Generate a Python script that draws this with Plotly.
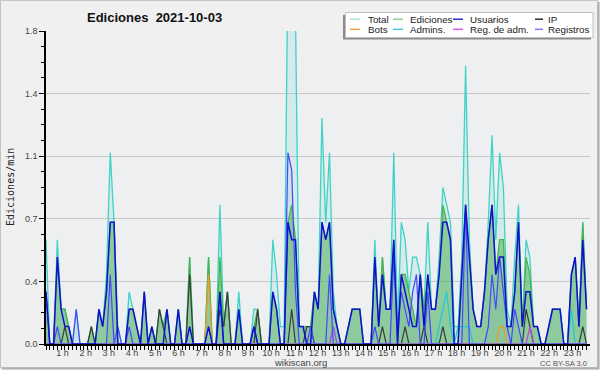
import plotly.graph_objects as go

# ---------------- data (edits per minute, 10-minute buckets, 144 per day) -------------
total = [0.6,0,0,0.6,0.2,0.2,0.1,0,0.2,0,0,0,
         0.1,0,0.2,0.1,0.4,1.1,0.7,0.1,0,0,0.3,0.2,
         0.1,0,0.3,0,0.1,0,0.2,0.1,0.2,0,0,0.2,
         0,0,0.5,0,0,0,0,0.5,0,0,0.8,0.1,
         0.3,0,0,0.3,0,0,0,0.2,0.2,0,0,0,
         0.6,0.4,0.1,0.1,2.2,2.5,1.9,0.1,0.1,0.1,0.1,0.3,
         0.2,1.3,0.7,1.1,0.3,0.1,0,0,0.1,0.2,0.2,0.2,
         0,0,0,0.6,0.1,0.5,0.2,0.2,1.1,0.1,0.7,0.6,
         0.3,0.5,0.5,0.4,0.2,0.7,0.2,0.2,0.5,0.9,0.8,0.7,
         0.1,0.1,0.5,1.6,0.6,0.2,0.1,0.1,0.3,0.7,1.2,0.6,
         1.1,0.9,0.2,0.1,0.5,0.8,0.1,0.6,0.5,0.1,0.1,0,
         0,0.1,0.2,0.2,0.2,0,0,0.4,0.5,0.1,0.7,0.2]
ediciones = [0.3,0,0,0.5,0.2,0.2,0.1,0,0,0,0,0,
             0.1,0,0.2,0.1,0.3,0.7,0.7,0,0,0,0.2,0.2,
             0.1,0,0.3,0,0.1,0,0.2,0.1,0.2,0,0,0.2,
             0,0,0.5,0,0,0,0,0.5,0,0,0.5,0.1,
             0.3,0,0,0.2,0,0,0,0.1,0.2,0,0,0,
             0.3,0.2,0,0,0.7,0.8,0.6,0.1,0.1,0.1,0.1,0.3,
             0.2,0.7,0.6,0.7,0.2,0.1,0,0,0.1,0.2,0.2,0.2,
             0,0,0,0.5,0.1,0.5,0.2,0.2,0.6,0,0.4,0.4,
             0.3,0.2,0.1,0.4,0.2,0.4,0.2,0.2,0.4,0.8,0.7,0.6,
             0,0,0.4,0.8,0.5,0.2,0.1,0.1,0.3,0.6,0.8,0.4,
             0.6,0.6,0.1,0.1,0.3,0.7,0.1,0.5,0.4,0.1,0.1,0,
             0,0.1,0.2,0.2,0.2,0,0,0.4,0.5,0.1,0.7,0.2]
usuarios = [0.3,0,0,0.5,0.2,0.1,0.1,0,0,0,0,0,
            0,0,0.2,0.1,0.3,0.7,0.7,0,0,0,0.2,0.2,
            0.1,0,0.3,0,0.1,0,0,0,0.2,0,0,0.2,
            0,0,0.1,0,0,0,0,0.1,0,0,0.3,0,
            0,0,0,0.2,0,0,0,0.1,0,0,0,0,
            0.3,0.2,0,0,0.7,0.6,0.6,0.1,0.1,0,0,0.3,
            0.2,0.7,0.6,0.7,0.2,0.1,0,0,0.1,0.2,0.2,0.2,
            0,0,0,0.5,0.1,0.4,0.2,0.2,0.6,0,0.4,0.3,
            0.2,0.1,0.1,0.4,0.1,0.4,0.2,0.2,0.4,0.7,0.7,0.6,
            0,0,0.4,0.8,0.5,0.2,0.1,0.1,0.3,0.6,0.8,0.4,
            0.5,0.5,0.1,0.1,0.3,0.7,0.1,0.3,0.3,0.1,0.1,0,
            0,0.1,0.2,0.2,0.2,0,0,0.4,0.5,0.1,0.6,0.2]
ip = [0,0,0,0,0,0.1,0,0,0,0,0,0,
      0.1,0,0,0,0,0,0,0,0,0,0,0,
      0,0,0,0,0,0,0.2,0.1,0,0,0,0,
      0,0,0.4,0,0,0,0,0,0,0,0.2,0.1,
      0.3,0,0,0,0,0,0,0,0.2,0,0,0,
      0,0,0,0,0,0.2,0,0,0,0.1,0.1,0,
      0,0,0,0,0,0,0,0,0,0,0,0,
      0,0,0,0,0,0.1,0,0,0,0,0,0.1,
      0,0,0,0,0.1,0,0,0,0,0.1,0,0,
      0,0,0,0,0,0,0,0,0,0,0,0,
      0,0,0,0,0,0,0,0.2,0.1,0,0,0,
      0,0,0,0,0,0,0,0,0,0,0.1,0]
bots = [0]*43 + [0.4] + [0]*76 + [0.1, 0.1] + [0]*22
admins = ([0]*43 + [0.1] + [0]*32 + [0.1] + [0]*27 + [0.1,0.2,0.3,0.1,0,0.1,0.1,0.1,0.1]
          + [0]*26 + [0.2] + [0]*4)
reg_adm = [0]*76 + [0.1] + [0]*51 + [0.1] + [0]*15
registros = [0.3,0,0,0.1,0,0,0,0,0.2,0,0,0,
             0,0,0,0,0,0.4,0,0.1,0,0,0.1,0,
             0,0,0,0,0,0,0,0,0,0,0,0,
             0,0,0,0,0,0,0,0,0,0,0.3,0,
             0,0,0,0,0,0,0,0.1,0,0,0,0,
             0,0,0,0,1.1,1.0,0.3,0,0,0,0.1,0,
             0,0,0,0.4,0,0,0,0,0,0,0,0,
             0,0,0,0.1,0,0,0,0,0.5,0.1,0.3,0.2,
             0.1,0.3,0.4,0,0,0.3,0,0,0,0,0,0,
             0,0,0,0.8,0,0,0,0,0,0.1,0.4,0.2,
             0.5,0.3,0.1,0,0.2,0.1,0,0,0,0,0,0,
             0,0,0,0,0,0,0,0,0,0,0,0]

slots = list(range(len(total)))          # 10-minute slot index
hour_labels = [f"{h} h" for h in range(1, 24)]
y_tickvals = [0, 0.36, 0.72, 1.08, 1.44, 1.8]
y_ticktext = ["0.0", "0.4", "0.7", "1.1", "1.4", "1.8"]

legend_names = ["Total", "Ediciones", "Usuarios", "IP",
                "Bots", "Admins.", "Reg. de adm.", "Registros"]
legend_colors = ["#a6e6de", "#92d492", "#3535cc", "#303030",
                 "#f6a444", "#4ccbe0", "#d05ee6", "#7c7cf0"]

# ---------------- geometry helpers (pixel -> paper) ----------------
W, H = 600, 370
L, R, T, B = 46, 10, 31, 26
PW, PH = W - L - R, H - T - B
def PX(px): return (px - L) / PW
def PY(py): return (H - B - py) / PH
SLOT_PX = 3.78
x_max = PW / SLOT_PX
hour_tickvals = [(62.5 - L + (h - 1) * 23.18) / SLOT_PX for h in range(1, 24)]

fig = go.Figure()
# Total
fig.add_trace(go.Scatter(x=slots, y=total, mode="lines", fill="tozeroy",
                         fillcolor="rgba(64,212,200,0.14)",
                         line=dict(color="#3fd3c6", width=1.3)))
# Registros (fill only)
fig.add_trace(go.Scatter(x=slots, y=registros, mode="lines", fill="tozeroy",
                         fillcolor="rgba(80,80,255,0.07)",
                         line=dict(color="rgba(0,0,0,0)", width=0)))
# Ediciones
fig.add_trace(go.Scatter(x=slots, y=ediciones, mode="lines", fill="tozeroy",
                         fillcolor="rgba(70,172,80,0.5)",
                         line=dict(color="#48b248", width=1.2)))
fig.add_trace(go.Scatter(x=slots, y=ip, mode="lines",
                         line=dict(color="#3a3a3a", width=1.2)))
fig.add_trace(go.Scatter(x=slots, y=bots, mode="lines",
                         line=dict(color="#f09a20", width=1.2)))
fig.add_trace(go.Scatter(x=slots, y=admins, mode="lines",
                         line=dict(color="#20c8dc", width=1.2)))
fig.add_trace(go.Scatter(x=slots, y=reg_adm, mode="lines",
                         line=dict(color="#c040e0", width=1.2)))
fig.add_trace(go.Scatter(x=slots, y=registros, mode="lines",
                         line=dict(color="#4646ff", width=1.2)))
fig.add_trace(go.Scatter(x=slots, y=usuarios, mode="lines",
                         line=dict(color="#1010d0", width=1.5)))

tickfont = dict(family="Liberation Sans", size=9, color="#444")
fig.update_xaxes(range=[0, x_max], showgrid=False, zeroline=False,
                 showline=True, linecolor="black", linewidth=1.5,
                 tickmode="array", tickvals=hour_tickvals, ticktext=hour_labels,
                 ticks="outside", ticklen=3, tickcolor="rgba(0,0,0,0)",
                 ticklabelstandoff=-4,
                 tickfont=tickfont,
                 minor=dict(tick0=0, dtick=1, ticks="outside", ticklen=4,
                            tickcolor="black", tickwidth=1, showgrid=False))
fig.update_yaxes(range=[0, 1.8], zeroline=False,
                 showline=True, linecolor="black", linewidth=1.5,
                 tickmode="array", tickvals=y_tickvals, ticktext=y_ticktext,
                 ticks="outside", ticklen=5, tickcolor="black", tickwidth=1,
                 tickfont=tickfont,
                 showgrid=True, gridcolor="#c8c8c8", gridwidth=1,
                 minor=dict(tick0=0, dtick=0.09, ticks="outside", ticklen=3,
                            tickcolor="black", tickwidth=1, showgrid=False))

shapes = []
# figure frame
shapes.append(dict(type="rect", xref="paper", yref="paper",
                   x0=PX(0.5), x1=PX(597.5), y0=PY(367.5), y1=PY(0.5),
                   line=dict(color="#c4c4c4", width=1), layer="below"))
shapes.append(dict(type="line", xref="paper", yref="paper",
                   x0=PX(598.5), x1=PX(598.5), y0=PY(369), y1=PY(2),
                   line=dict(color="#b0b0b0", width=2)))
shapes.append(dict(type="line", xref="paper", yref="paper",
                   x0=PX(2), x1=PX(599), y0=PY(368.5), y1=PY(368.5),
                   line=dict(color="#b0b0b0", width=2)))
# legend box with shadow
shapes.append(dict(type="rect", xref="paper", yref="paper",
                   x0=PX(343), x1=PX(591), y0=PY(39.5), y1=PY(15),
                   fillcolor="#8a8a8a", line=dict(width=0)))
shapes.append(dict(type="rect", xref="paper", yref="paper",
                   x0=PX(345.5), x1=PX(593), y0=PY(37.5), y1=PY(12.5),
                   fillcolor="white", line=dict(color="#c0c0c0", width=1)))

annotations = []
col_sw = [(350, 360), (393, 403), (453, 463), (535, 543)]
col_tx = [366, 408, 468, 546]
rows_y = [19.2, 29.3]
for k, (name, col) in enumerate(zip(legend_names, legend_colors)):
    r, c = divmod(k, 4)
    sx0, sx1 = col_sw[c]
    shapes.append(dict(type="line", xref="paper", yref="paper",
                       x0=PX(sx0), x1=PX(sx1), y0=PY(rows_y[r]), y1=PY(rows_y[r]),
                       line=dict(color=col, width=1.5)))
    annotations.append(dict(text=name, xref="paper", yref="paper",
                            x=PX(col_tx[c]), y=PY(rows_y[r]), xanchor="left",
                            yanchor="middle", showarrow=False,
                            font=dict(family="Liberation Sans", size=9.8, color="#222")))

annotations += [
    dict(text="<b>Ediciones  2021-10-03</b>", xref="paper", yref="paper",
         x=PX(85), y=PY(17), xanchor="left", yanchor="middle", showarrow=False,
         font=dict(family="Liberation Sans", size=13, color="#111")),
    dict(text="Ediciones/min", xref="paper", yref="paper", textangle=-90,
         x=PX(10), y=PY(187), xanchor="center", yanchor="middle", showarrow=False,
         font=dict(family="DejaVu Sans Mono", size=10, color="#222")),
    dict(text="wikiscan.org", xref="paper", yref="paper",
         x=PX(300.5), y=PY(362), xanchor="center", yanchor="middle", showarrow=False,
         font=dict(family="Liberation Sans", size=9.5, color="#444")),
    dict(text="CC BY-SA 3.0", xref="paper", yref="paper",
         x=PX(589), y=PY(363), xanchor="right", yanchor="middle", showarrow=False,
         font=dict(family="Liberation Sans", size=7.5, color="#555")),
]

fig.update_layout(width=W, height=H, margin=dict(l=L, r=R, t=T, b=B),
                  paper_bgcolor="#f0f0f0", plot_bgcolor="#eeeff1",
                  showlegend=False, shapes=shapes, annotations=annotations)

fig.write_html("out.html", config={"displayModeBar": False},
               post_script="document.body.style.margin='0';document.body.style.padding='0';")
